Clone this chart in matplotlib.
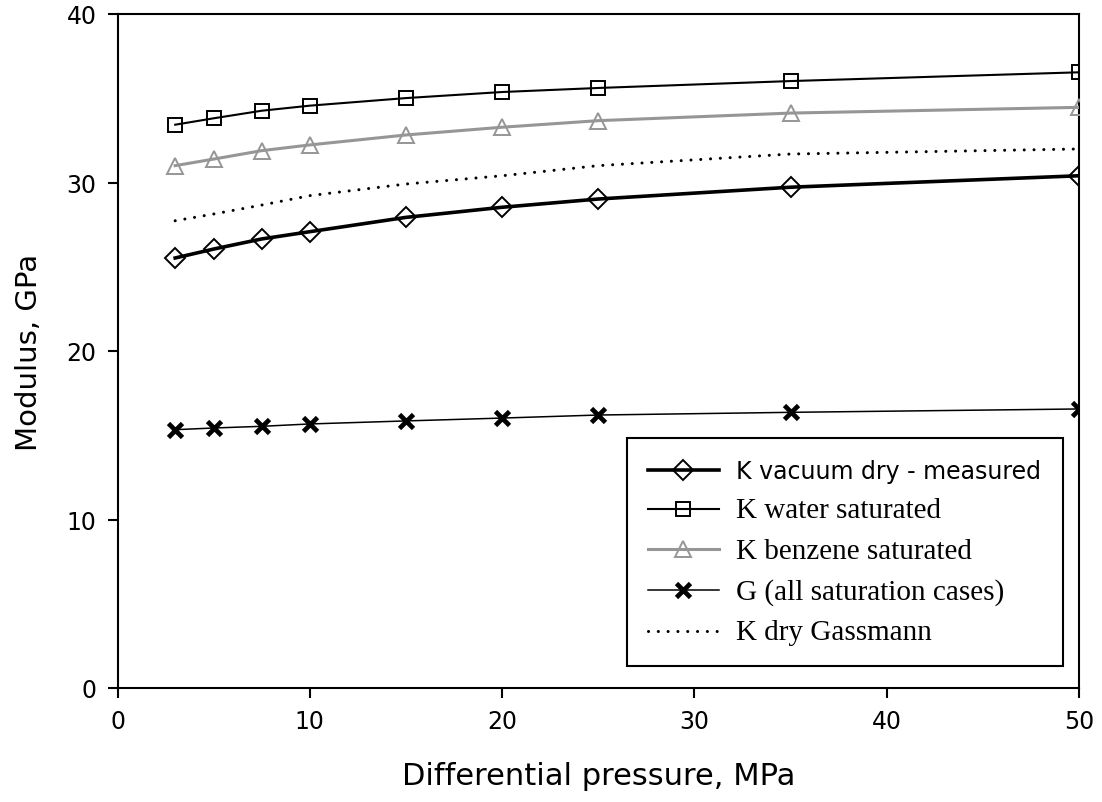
import numpy as np
import matplotlib
matplotlib.use("Agg")
import matplotlib.pyplot as plt

# differential pressure, MPa
pressure = [3, 5, 7.5, 10, 15, 20, 25, 35, 50]

# moduli, GPa
k_dry = [25.52, 26.05, 26.65, 27.08, 27.93, 28.53, 29.02, 29.72, 30.40]
k_water = [33.43, 33.81, 34.26, 34.56, 35.01, 35.37, 35.61, 36.02, 36.54]
k_benzene = [31.00, 31.39, 31.89, 32.23, 32.82, 33.28, 33.67, 34.12, 34.46]
g_all = [15.33, 15.43, 15.53, 15.67, 15.85, 16.02, 16.20, 16.36, 16.56]
k_gassmann = [27.73, 28.13, 28.66, 29.22, 29.91, 30.40, 31.00, 31.69, 31.99]

labels = ["K vacuum dry - measured", "K water saturated", "K benzene saturated",
          "G (all saturation cases)", "K dry Gassmann"]

W, H = 1102, 803
fig = plt.figure(figsize=(W / 100, H / 100), dpi=100)
ax = fig.add_axes([117.5 / W, (H - 689) / H, (1079 - 117.5) / W, (689 - 15) / H])

gray = "#969696"
ax.plot(pressure, k_dry, color="black", lw=2.6, marker="D", ms=10.5,
        mfc="none", mec="black", mew=1.4, label=labels[0], zorder=4)
ax.plot(pressure, k_water, color="black", lw=1.5, marker="s", ms=10.5,
        mfc="none", mec="black", mew=1.4, label=labels[1], zorder=4)
ax.plot(pressure, k_benzene, color=gray, lw=2.2, marker="^", ms=11,
        mfc="none", mec=gray, mew=1.4, label=labels[2], zorder=3)
ax.plot(pressure, g_all, color="black", lw=1.1, marker="x", ms=9.5,
        mec="black", mew=3.4, label=labels[3], zorder=4)
ax.plot(pressure, k_gassmann, color="black", lw=2.2, linestyle=(0, (0.01, 3.2)),
        dash_capstyle="round", label=labels[4], zorder=3)

ax.set_xlim(0, 50)
ax.set_ylim(0, 40)
ax.set_xticks(np.arange(0, 51, 10))
ax.set_yticks(np.arange(0, 41, 10))

for s in ax.spines.values():
    s.set_linewidth(1.5)
ax.tick_params(direction="out", length=7, width=1.5, labelsize=17,
               top=False, right=False)
ax.tick_params(axis="y", pad=8)
ax.tick_params(axis="x", pad=8)
for t in ax.get_xticklabels() + ax.get_yticklabels():
    t.set_fontfamily("DejaVu Sans")

ax.set_xlabel("Differential pressure, MPa", fontsize=22, family="DejaVu Sans",
              labelpad=20)
ax.set_ylabel("Modulus, GPa", fontsize=21, family="DejaVu Sans", labelpad=17)

leg = ax.legend(loc="lower right", bbox_to_anchor=(0.983, 0.0326),
                borderaxespad=0, fancybox=False, framealpha=1,
                edgecolor="black", fontsize=17, handlelength=3.0,
                handletextpad=0.75, labelspacing=0.6, borderpad=0.9)
leg.get_frame().set_linewidth(1.5)
for i, t in enumerate(leg.get_texts()):
    t.set_fontfamily("DejaVu Sans" if i == 0 else "Liberation Serif")
    if i > 0:
        t.set_fontsize(21)

fig.savefig("out.png", dpi=100)
